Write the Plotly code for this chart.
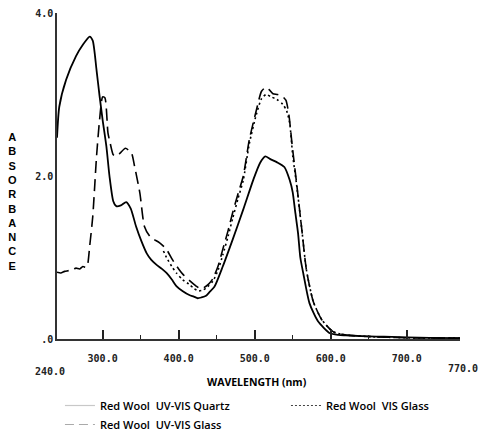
import plotly.graph_objects as go

# ---- data ----
quartz_wl = [240, 243, 252, 265, 274, 283, 287, 292, 296, 300, 305, 309, 314, 318, 324, 331, 337, 344,
             351, 358, 364, 371, 378, 384, 391, 397, 405, 414, 420, 425, 430, 436, 441, 447, 458, 471,
             485, 498, 507, 514, 520, 529, 539, 546, 550, 553, 557, 560, 564, 572, 583, 599, 610, 620,
             640, 660, 680, 700, 730, 770]
quartz_abs = [2.47, 2.85, 3.18, 3.47, 3.61, 3.71, 3.66, 3.30, 2.98, 2.69, 2.36, 2.00, 1.69, 1.63, 1.64, 1.68,
              1.60, 1.38, 1.20, 1.05, 0.97, 0.91, 0.86, 0.81, 0.73, 0.65, 0.59, 0.54, 0.52, 0.50, 0.51, 0.53,
              0.58, 0.64, 0.89, 1.22, 1.59, 1.95, 2.16, 2.24, 2.21, 2.17, 2.11, 1.95, 1.80, 1.58, 1.30, 1.00,
              0.80, 0.44, 0.22, 0.07, 0.05, 0.045, 0.035, 0.03, 0.025, 0.02, 0.015, 0.01]

uvglass_wl = [240, 245, 250, 256, 262, 265, 270, 274, 278, 280, 283, 287, 292, 296, 300, 303, 307, 310,
              314, 318, 323, 330, 338, 342, 349, 355, 362, 368, 375, 384, 392, 400, 406, 414, 423, 428,
              433, 440, 445, 452, 458, 465, 471, 478, 485, 493, 502, 509, 515, 519, 524, 530, 536, 541,
              545, 549, 555, 562, 568, 577, 588, 603, 620, 650, 700, 770]
uvglass_abs = [0.82, 0.81, 0.83, 0.84, 0.86, 0.87, 0.86, 0.89, 0.88, 0.90, 1.14, 1.50, 2.24, 2.69, 2.97, 2.96,
               2.53, 2.40, 2.26, 2.24, 2.28, 2.34, 2.28, 2.12, 1.79, 1.38, 1.26, 1.22, 1.18, 1.10, 0.97, 0.86,
               0.79, 0.72, 0.65, 0.62, 0.63, 0.68, 0.74, 0.90, 1.10, 1.33, 1.55, 1.78, 2.00, 2.45, 2.80, 3.04,
               3.09, 3.06, 3.01, 3.00, 2.98, 2.93, 2.75, 2.40, 1.92, 1.34, 0.85, 0.46, 0.24, 0.09, 0.05, 0.03,
               0.015, 0.01]

visglass_wl = [380, 384, 391, 397, 405, 414, 420, 426, 432, 438, 445, 452, 458, 465, 471, 478, 485, 493,
               502, 509, 515, 522, 529, 537, 542, 546, 550, 555, 562, 568, 577, 588, 603, 620, 650, 700, 770]
visglass_abs = [1.08, 1.00, 0.89, 0.81, 0.73, 0.67, 0.62, 0.59, 0.60, 0.64, 0.71, 0.85, 1.03, 1.26, 1.48,
                1.72, 1.95, 2.40, 2.75, 2.95, 3.00, 2.97, 2.94, 2.88, 2.80, 2.65, 2.25, 1.90, 1.34, 0.85,
                0.46, 0.24, 0.09, 0.05, 0.03, 0.015, 0.01]

series_names = ["Red Wool\u00a0\u00a0UV-VIS Quartz", "Red Wool\u00a0\u00a0VIS Glass", "Red Wool\u00a0\u00a0UV-VIS Glass"]

x_tickvals = [300, 400, 500, 600, 700, 770]
x_ticktext = ["300.0", "400.0", "500.0", "600.0", "700.0", ""]
y_tickvals = [0, 2, 4]
y_ticktext = [".0", "2.0", "4.0"]

mono = dict(family="DejaVu Sans Mono", size=10, color="#222", weight="bold")

PL, PR, PT, PB = 57, 20, 13, 96
PW = 480 - PL - PR
PH = 435 - PT - PB


def px_x(px):
    return (px - PL) / PW


def px_y(py):
    return (435 - PB - py) / PH


fig = go.Figure()
fig.add_trace(go.Scatter(x=quartz_wl, y=quartz_abs, mode="lines", showlegend=False,
                         line=dict(color="black", width=1.8, shape="spline", smoothing=0.6)))
fig.add_trace(go.Scatter(x=uvglass_wl, y=uvglass_abs, mode="lines", showlegend=False,
                         line=dict(color="black", width=1.6, dash="12px,6px", shape="spline", smoothing=0.6)))
fig.add_trace(go.Scatter(x=visglass_wl, y=visglass_abs, mode="lines", showlegend=False,
                         line=dict(color="black", width=1.6, dash="2px,3px", shape="spline", smoothing=0.6)))

# legend entries
fig.add_trace(go.Scatter(x=[None], y=[None], mode="lines", name=series_names[0],
                         line=dict(color="#c8c8c8", width=1.2)))
fig.add_trace(go.Scatter(x=[None], y=[None], mode="lines", name=series_names[1],
                         line=dict(color="#444", width=1.2, dash="2px,2px")))
fig.add_trace(go.Scatter(x=[None], y=[None], mode="lines", name=series_names[2],
                         line=dict(color="#aaa", width=1.2, dash="9px,5px")))

fig.update_layout(
    width=480, height=435,
    margin=dict(l=PL, r=PR, t=PT, b=PB, autoexpand=False),
    paper_bgcolor="white", plot_bgcolor="white",
    xaxis=dict(range=[240, 770], showgrid=False, zeroline=False,
               showline=True, linecolor="#333", linewidth=1.5,
               tickmode="array", tickvals=x_tickvals, ticktext=x_ticktext,
               ticks="inside", ticklen=9, tickwidth=1.5, tickcolor="#222",
               minor=dict(tickmode="array", tickvals=[350, 450, 550, 650], ticks="inside",
                          ticklen=4, tickwidth=1.2, tickcolor="#222"),
               tickfont=mono, ticklabelstandoff=9),
    yaxis=dict(range=[0, 4], showgrid=False, zeroline=False,
               showline=True, linecolor="#333", linewidth=1.5,
               tickmode="array", tickvals=y_tickvals, ticktext=y_ticktext,
               ticks="", tickfont=mono),
    legend=dict(orientation="h", x=-0.0001, xanchor="left", y=px_y(391), yanchor="top",
                entrywidth=178, entrywidthmode="pixels", indentation=3,
                font=dict(family="Open Sans", size=11, color="black", weight=600),
                itemwidth=30, bgcolor="rgba(0,0,0,0)"),
    annotations=[
        dict(text="240.0", x=px_x(50), xref="paper", y=px_y(371), yref="paper", showarrow=False,
             font=mono, xanchor="center", yanchor="middle"),
        dict(text="770.0", x=px_x(480), xref="paper", y=px_y(368), yref="paper", showarrow=False,
             font=mono, xanchor="right", yanchor="middle"),
        dict(text="WAVELENGTH (nm)", x=px_x(257), xref="paper", y=px_y(382), yref="paper", showarrow=False,
             font=dict(family="Open Sans", size=10.5, color="black", weight="bold"),
             xanchor="center", yanchor="middle"),
        dict(text="<br>".join("ABSORBANCE"), x=px_x(12), xref="paper", y=px_y(201), yref="paper",
             showarrow=False, font=dict(family="Liberation Sans", size=11, color="black", weight="bold"),
             xanchor="center", yanchor="middle"),
    ],
)

fig.write_html("out.html", config={"displayModeBar": False},
               post_script="document.body.style.margin='0';document.body.style.overflow='hidden';")
